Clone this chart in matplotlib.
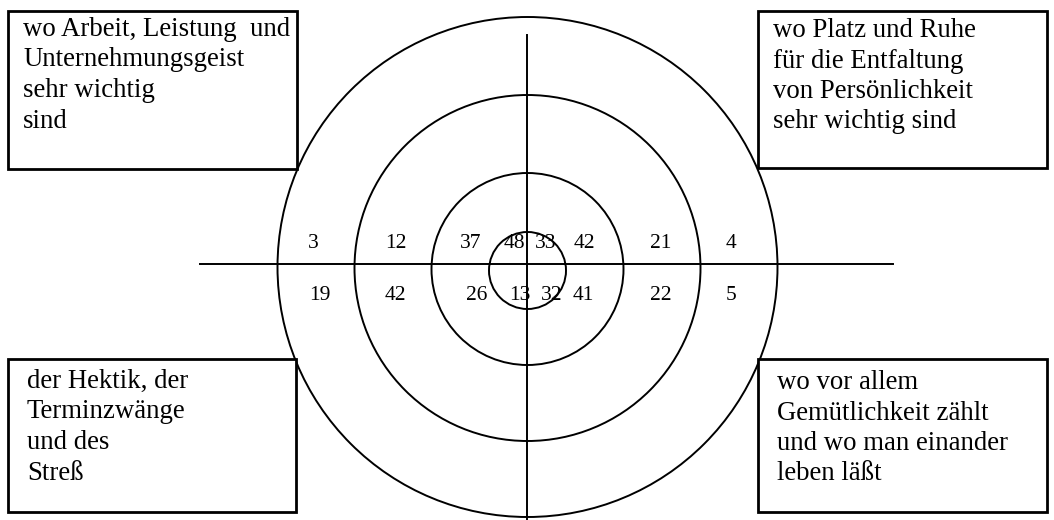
import matplotlib
matplotlib.use("Agg")
import matplotlib.pyplot as plt
from matplotlib.patches import Circle, Rectangle

plt.rcParams['font.family'] = ['Liberation Serif', 'DejaVu Serif']

# percentages per quadrant, from the inner ring to the outer ring
top_left = [48, 37, 12, 3]
top_right = [33, 42, 21, 4]
bottom_left = [13, 26, 42, 19]
bottom_right = [32, 41, 22, 5]

box_texts = {
    'tl': ["wo Arbeit, Leistung  und", "Unternehmungsgeist", "sehr wichtig", "sind"],
    'tr': ["wo Platz und Ruhe", "für die Entfaltung", "von Persönlichkeit", "sehr wichtig sind"],
    'bl': ["der Hektik, der", "Terminzwänge", "und des", "Streß"],
    'br': ["wo vor allem", "Gemütlichkeit zählt", "und wo man einander", "leben läßt"],
}

# layout (pixel space)
cx = 527.5
ring_r = [38.5, 96, 173, 250]
ring_cy = [270.5, 269, 268, 267]

fig = plt.figure(figsize=(10.54, 5.2), dpi=100)
ax = fig.add_axes([0, 0, 1, 1])
ax.set_xlim(0, 1054)
ax.set_ylim(520, 0)
ax.axis('off')

lw = 1.4
for r, cy in zip(ring_r, ring_cy):
    ax.add_patch(Circle((cx, cy), r, fill=False, lw=lw, ec='black'))

ax.plot([200, 893], [264, 264], color='black', lw=lw)
ax.plot([527, 527], [35, 520], color='black', lw=lw)

fs_num = 15.5
for vals, dxs, yb in [(top_left, [-13, -57, -132, -214], 248),
                      (top_right, [18, 57, 133, 204], 248),
                      (bottom_left, [-8, -51, -132, -208], 300),
                      (bottom_right, [24, 56, 133, 204], 300)]:
    for v, dx in zip(vals, dxs):
        ax.text(cx + dx, yb, str(v), fontsize=fs_num, ha='center', va='baseline')

boxes = {
    'tl': (8, 11, 289, 158, 23, 36),
    'tr': (758, 11, 289, 157, 773, 37),
    'bl': (8, 359, 288, 153, 27, 388),
    'br': (758, 359, 289, 153, 777, 389),
}
for key, (x, y, w, h, tx, ty) in boxes.items():
    ax.add_patch(Rectangle((x, y), w, h, fill=True, fc='white', ec='black', lw=2.0, zorder=3))
    for i, line in enumerate(box_texts[key]):
        ax.text(tx, ty + i * 30.5, line, fontsize=19.3, ha='left', va='baseline', zorder=4)

fig.savefig('out.png', dpi=100)
